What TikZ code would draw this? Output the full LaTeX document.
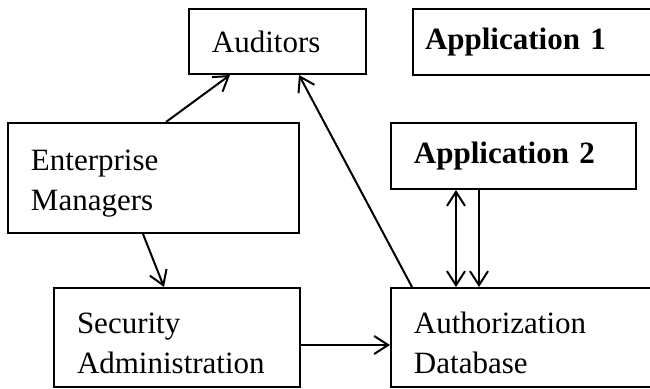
\documentclass[tikz,border=0pt]{standalone}
\usepackage{fontspec}
\setmainfont{Liberation Serif}
\usetikzlibrary{arrows.meta}

\tikzset{
        box/.style={draw, line width=1pt, anchor=north west, align=left, inner ysep=0pt, inner xsep=11.5pt, font=\fontsize{15.5}{20}\selectfont},
        boldbox/.style={box, font=\fontsize{15.5}{20}\selectfont\bfseries},
        % first line a bit lower, as in the two line boxes
        lowtext/.style={execute at begin node={\rule{0pt}{16pt}}},
        >={Straight Barb[length=7pt,width=9pt]}
}

\begin{document}
\begin{tikzpicture}[x=0.5pt,y=-0.5pt,line width=1pt]

        \useasboundingbox (0,0) rectangle (650,388);

        \node[box, text width=65.5pt, minimum height=32.5pt] (aud) at (188,8) {Auditors};
        \node[boldbox, text width=108pt, inner xsep=6pt, minimum height=33pt] (app1) at (412,8) {Application 1};
        \node[box, lowtext, text width=122.5pt, minimum height=55pt] (em) at (7,122) {Enterprise\\Managers};
        \node[boldbox, text width=99.5pt, minimum height=33pt] (app2) at (390,122) {Application 2};
        \node[box, lowtext, text width=100pt, minimum height=49.5pt] (sa) at (53,287) {Security\\Administration};
        \node[box, lowtext, text width=108pt, minimum height=49.5pt] (ad) at (390,287) {Authorization\\Database};

        %\draw[->] (em) -- (aud);
        \draw[->] ([xshift=79.5pt]em.north west) -- ([xshift=21pt]aud.south west);
        \draw[->] ([xshift=68pt]em.south west) -- ([xshift=55.5pt]sa.north west);
        \draw[->] ([yshift=-3.75pt]sa.east) -- ([yshift=-3.75pt]ad.west);
        \draw[->] ([xshift=11pt]ad.north west) -- ([xshift=55.5pt]aud.south west);
        \draw[<->] ([xshift=33pt]app2.south west) -- ([xshift=33pt]ad.north west);
        \draw[->] ([xshift=44.5pt]app2.south west) -- ([xshift=44.5pt]ad.north west);

    \end{tikzpicture}
\end{document}
